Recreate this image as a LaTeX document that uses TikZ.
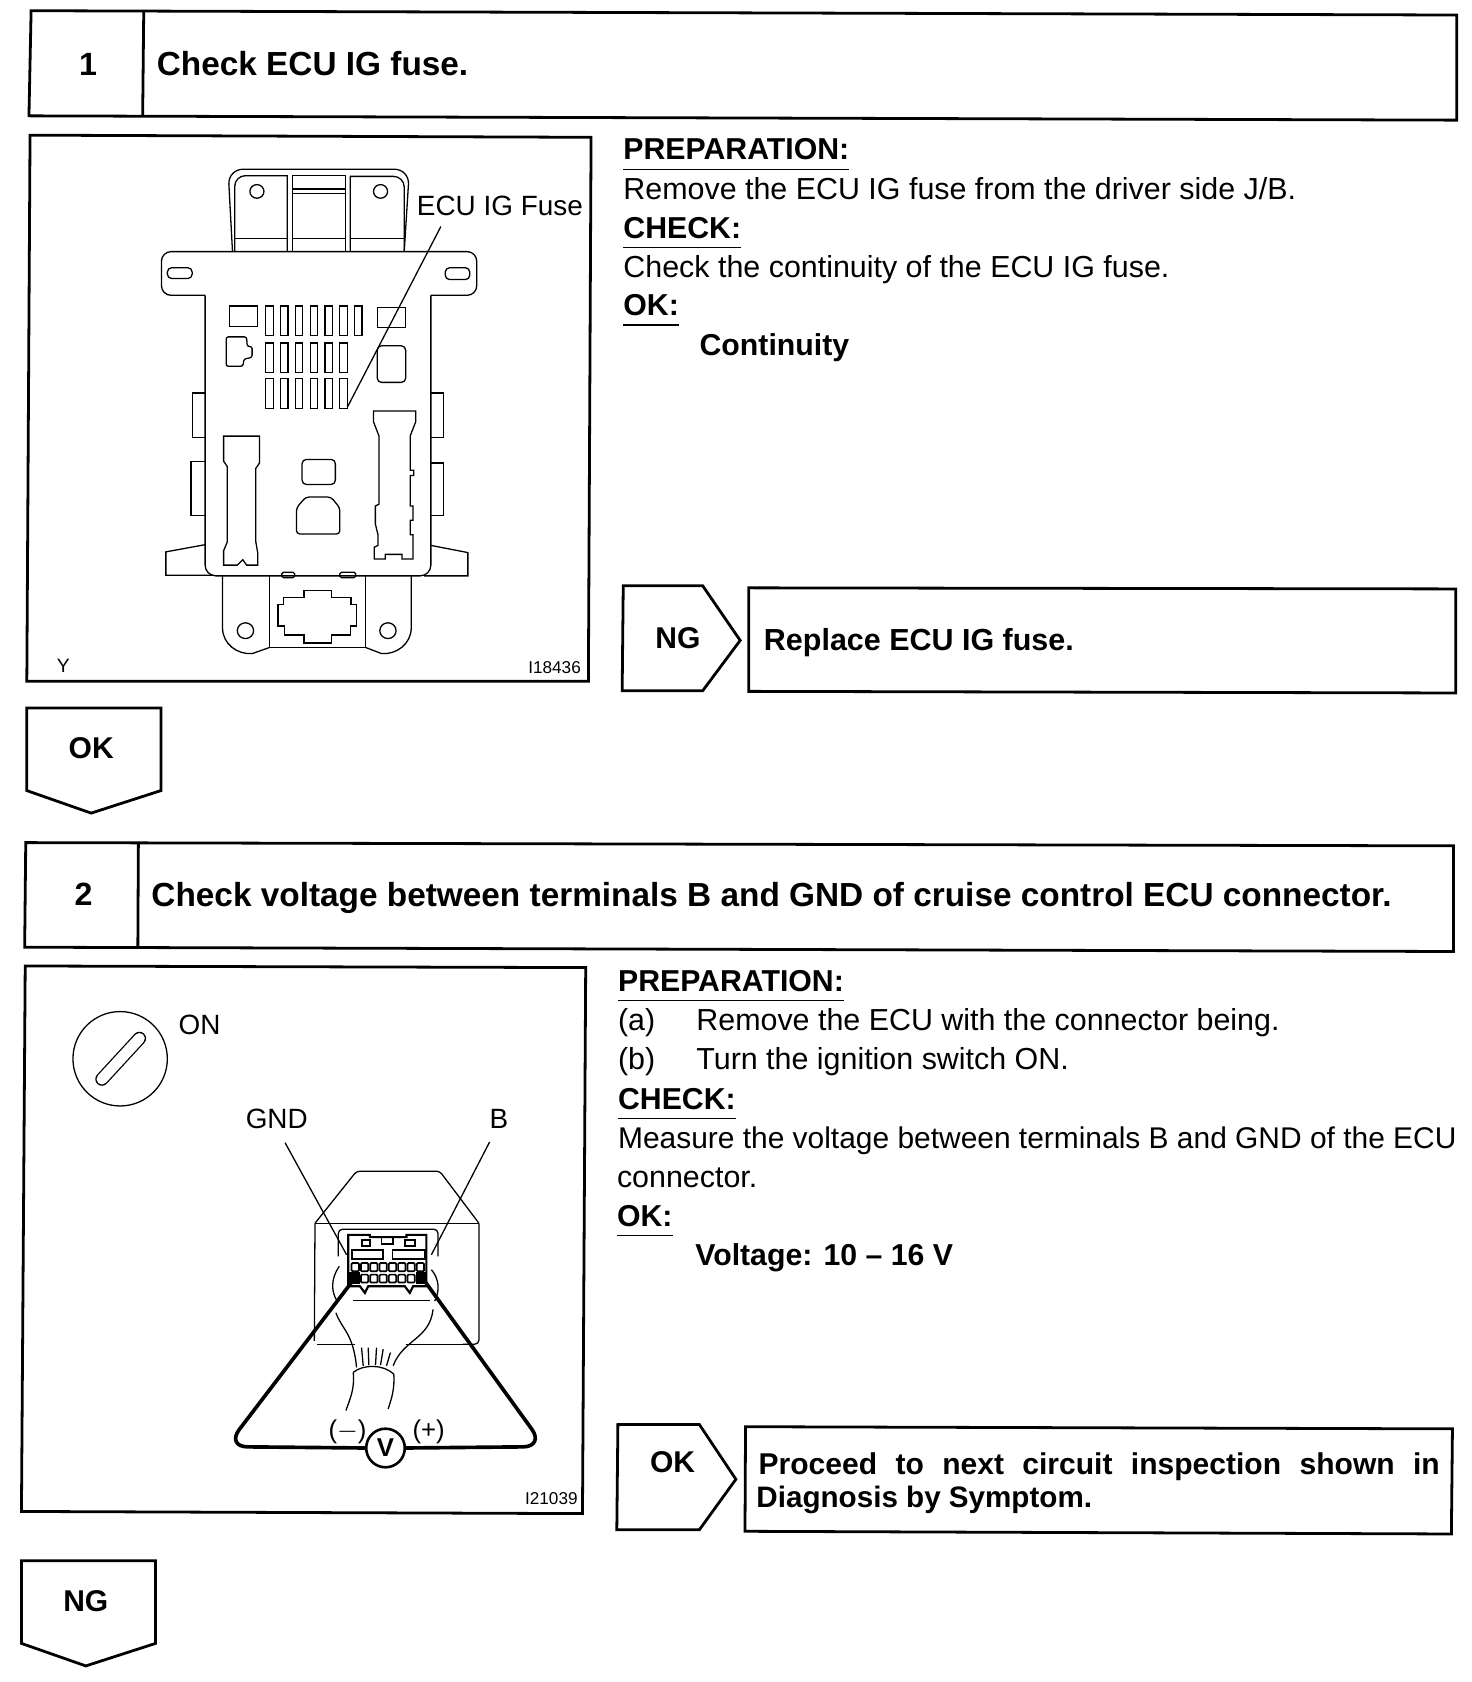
\documentclass[tikz,border=0pt]{standalone}
\usepackage{fontspec}
\setmainfont{Liberation Sans}
\newcommand{\fsz}[1]{\fontsize{#1}{#1}\selectfont}
\begin{document}
\begin{tikzpicture}
[
	x=1pt,y=-1pt,
	frameln/.style={draw,line width=2.6pt,line join=miter},
	thinln/.style={draw,line width=1.2pt},
	probeln/.style={draw,line width=3.4pt,line join=round},
	smooth/.style={rounded corners=#1},
	titletxt/.style={anchor=base west,inner sep=0pt,font=\fsz{31.1}\bfseries},
	bodytxt/.style={anchor=base west,inner sep=0pt,font=\fsz{28.35}},
	headtxt/.style={anchor=base west,inner sep=0pt,font=\fsz{28.2}\bfseries},
	arrowtxt/.style={inner sep=0pt,font=\fsz{28}\bfseries},
	labeltxt/.style={inner sep=0pt,font=\fsz{26}},
	codetxt/.style={inner sep=0pt,font=\fsz{16}}
]
	\useasboundingbox (0,0) rectangle (1372,1568);

	% step 1
	\draw[frameln] (29,10) -- (1358,14) -- (1358,112) -- (27,108) -- cycle;
	\draw[frameln] (134,10) -- (133,108);
	\node[inner sep=0pt,font=\fsz{30}\bfseries] at (82,60) (numa) {1};
	\node[titletxt] at (146,70) (titlea) {Check ECU IG fuse.};

	\draw[frameln] (28,126) -- (551,128) -- (548.5,635) -- (25,635) -- cycle;

	\node[headtxt] at (581,149) (prepa) {PREPARATION:};
	\node[bodytxt] at (581,186) (linea) {Remove the ECU IG fuse from the driver side J/B.};
	\node[headtxt] at (581,222) (checka) {CHECK:};
	\node[bodytxt] at (581,259) (lineb) {Check the continuity of the ECU IG fuse.};
	\node[headtxt] at (581,294) (oka) {OK:};
	\node[headtxt] at (652,331) (resa) {Continuity};
	\draw[thinln] ([yshift=-9pt]prepa.base west) -- ([yshift=-9pt]prepa.base east);
	\draw[thinln] ([yshift=-9pt]checka.base west) -- ([yshift=-9pt]checka.base east);
	\draw[thinln] ([yshift=-9pt]oka.base west) -- ([yshift=-9pt]oka.base east);

	\draw[frameln] (581,546) -- (655,546) -- (690,597) -- (655,644) -- (580,644) -- cycle;
	\node[arrowtxt] at (632,595) (nga) {NG};
	\draw[frameln] (698,548) -- (1357,549) -- (1357,646) -- (698,644.5) -- cycle;
	\node[titletxt,font=\fsz{28.4}\bfseries] at (712,606) (replace) {Replace ECU IG fuse.};

	\draw[frameln] (25,660) -- (150,660) -- (150,737) -- (85,758) -- (25,737) -- cycle;
	\node[arrowtxt] at (85,697) (okb) {OK};

	% fuse box drawing
	\begin{scope}[shift={(19.4,121)},x=0.345pt,y=-0.334pt,every path/.style={thinln}]
		\draw[smooth=14] (572,340) -- (560,110) -- (1050,110) -- (1036,340);
		\draw (720,340) -- (720,128) -- (620,128) [rounded corners=10] -- (578,128) -- (578,340);
		\draw (735,340) -- (735,128) -- (878,128) -- (878,340);
		\draw (735,165) -- (878,165);
		\draw (735,178) -- (878,178);
		\draw (890,340) -- (890,130) -- (990,130) [rounded corners=10] -- (1036,130) -- (1036,340);
		\draw (578,303) -- (720,303);
		\draw (735,303) -- (878,303);
		\draw (890,303) -- (1036,303);
		\draw (638,172) circle (19);
		\draw (972,172) circle (19);

		\draw[smooth=9] (800,340) -- (1232,340) -- (1232,462) -- (1108,462);
		\draw[smooth=9] (800,340) -- (380,340) -- (380,462) -- (498,462);
		\draw[smooth=10] (498,462) -- (498,1245) -- (1108,1245) -- (1108,462);
		\draw[rounded corners=4] (396,385) rectangle (463,415);
		\draw[rounded corners=4] (1147,385) rectangle (1213,418);

		\foreach \xa in {662,702,742,782,822,862,902}
			\draw (\xa,492) rectangle ++(20,83);
		\foreach \xa in {662,702,742,782,822,862} {
			\draw (\xa,595) rectangle ++(20,83);
			\draw (\xa,695) rectangle ++(20,83);
		}
		\draw (563,492) rectangle (640,550);
		\draw (963,495) rectangle (1040,552);
		\draw[rounded corners=4] (963,603) rectangle (1040,705);
		\draw[rounded corners=2] (555,578) -- (610,578) -- (612,605) -- (625,605) -- (625,635) -- (603,640) -- (600,660) -- (555,660) -- cycle;

		\draw (498,735) -- (463,735) -- (463,858) -- (498,858);
		\draw (1108,735) -- (1143,735) -- (1143,858) -- (1108,858);
		\draw (498,925) -- (460,925) -- (460,1077) -- (498,1077);
		\draw (1108,930) -- (1143,930) -- (1143,1077) -- (1108,1077);
		\draw (498,1158) -- (392,1178) -- (392,1243) -- (520,1243);
		\draw (1108,1160) -- (1208,1180) -- (1208,1245) -- (1090,1245);

		\draw (548,855) -- (645,855) -- (645,930) -- (635,945) -- (635,1150) -- (640,1180) -- (640,1215) -- (610,1215) -- (600,1200) -- (585,1215) -- (548,1215) -- (548,1175) -- (558,1150) -- (558,940) -- (548,925) -- cycle;
		\draw (953,785) -- (1067,785) -- (1067,815) -- (1052,855) -- (1052,950) -- (1062,950) -- (1062,965) -- (1052,965) -- (1052,1050) -- (1060,1050) -- (1060,1090) -- (1052,1090) -- (1052,1130) -- (1060,1130) -- (1060,1198) -- (1030,1198) -- (1030,1185) -- (985,1185) -- (985,1198) -- (955,1198) -- (955,1165) -- (965,1160) -- (965,1130) -- (958,1100) -- (958,1050) -- (968,1045) -- (968,855) -- (953,815) -- cycle;
		\draw[rounded corners=4] (760,920) rectangle (850,990);
		\draw[rounded corners=3] (770,1025) -- (838,1025) -- (862,1055) -- (862,1128) -- (745,1128) -- (745,1055) -- cycle;

		\draw (545,1245) -- (545,1390) .. controls (545,1435) and (585,1465) .. (625,1462) -- (672,1445);
		\draw (1055,1245) -- (1055,1390) .. controls (1055,1435) and (1015,1465) .. (975,1462) -- (932,1445);
		\draw (672,1245) -- (672,1445) -- (932,1445) -- (932,1245);
		\draw[rounded corners=1.5] (705,1250) -- (705,1235) -- (740,1235) -- (740,1250) -- cycle;
		\draw[rounded corners=1.5] (862,1250) -- (862,1235) -- (905,1235) -- (905,1250) -- cycle;
		\draw (710,1305) -- (765,1305) -- (765,1285) -- (840,1285) -- (840,1305) -- (892,1305) -- (892,1325) -- (908,1325) -- (908,1385) -- (890,1385) -- (890,1410) -- (840,1410) -- (840,1432) -- (765,1432) -- (765,1410) -- (712,1410) -- (712,1385) -- (695,1385) -- (695,1325) -- (710,1325) -- cycle;
		\draw (607,1398) circle (22);
		\draw (992,1398) circle (22);

		\coordinate (fusetop) at (1135,270);
		\coordinate (fusetip) at (882,775);
		\draw (fusetop) -- (fusetip);
	\end{scope}
	\node[labeltxt] at (466,192) (fuselabel) {ECU IG Fuse};
	\node[codetxt,font=\fsz{18}] at (59,621) (ya) {Y};
	\node[codetxt] at (517,622) (codea) {I18436};

	% step 2
	\draw[frameln] (24,785.5) -- (1355,788.5) -- (1355,887) -- (23,883) -- cycle;
	\draw[frameln] (129,786) -- (128.5,883);
	\node[inner sep=0pt,font=\fsz{30}\bfseries] at (78,834) (numb) {2};
	\node[titletxt] at (141,845) (titleb) {Check voltage between terminals B and GND of cruise control ECU connector.};

	\draw[frameln] (23.5,900.5) -- (546,902) -- (543,1411) -- (20,1409) -- cycle;

	\node[headtxt] at (576,924) (prepb) {PREPARATION:};
	\node[bodytxt] at (576,961) (linec) {(a)};
	\node[bodytxt] at (649,961) (lined) {Remove the ECU with the connector being.};
	\node[bodytxt] at (576,997) (linee) {(b)};
	\node[bodytxt] at (649,997) (linef) {Turn the ignition switch ON.};
	\node[headtxt] at (576,1034) (checkb) {CHECK:};
	\node[bodytxt,font=\fsz{27.9}] at (576,1071) (lineg) {Measure the voltage between terminals B and GND of the ECU};
	\node[bodytxt] at (575,1107) (lineh) {connector.};
	\node[headtxt] at (575,1143) (okc) {OK:};
	\node[headtxt] at (648,1180) (resb) {Voltage: 10 -- 16 V};
	\draw[thinln] ([yshift=-9pt]prepb.base west) -- ([yshift=-9pt]prepb.base east);
	\draw[thinln] ([yshift=-9pt]checkb.base west) -- ([yshift=-9pt]checkb.base east);
	\draw[thinln] ([yshift=-9pt]okc.base west) -- ([yshift=-9pt]okc.base east);

	\draw[frameln] (576,1328) -- (652,1328) -- (686,1379) -- (652,1426) -- (575,1426) -- cycle;
	\node[arrowtxt] at (627,1363) (okd) {OK};
	\draw[frameln] (695,1330) -- (1354,1332) -- (1353,1430) -- (694.5,1427.5) -- cycle;
	\node[anchor=north west,inner sep=0pt,text width=635pt,align=justify,font=\fontsize{28}{31}\bfseries\selectfont] at (707,1354) (proceed) {Proceed to next circuit inspection shown in\linebreak {\fontsize{27.6}{31}\selectfont\hspace*{-2pt}Diagnosis by Symptom.}};

	\draw[frameln] (20,1455) -- (145,1455) -- (145,1532) -- (80,1553) -- (20,1532) -- cycle;
	\node[arrowtxt] at (80,1493) (ngb) {NG};

	% ignition switch
	\draw[thinln] (112,987) circle (44);
	\coordinate (keya) at (95,1006);
	\coordinate (keyb) at (130,968);
	\draw[line width=1.2pt,double=white,double distance=10pt,line cap=round] (keya) -- (keyb);
	\node[labeltxt] at (186,955) (onlabel) {ON};

	% connector drawing
	\begin{scope}[shift={(205.3,1026)},x=0.31pt,y=-0.309pt,every path/.style={thinln}]
		\draw[smooth=3] (285,370) -- (410,213) -- (660,213) -- (778,370);
		\draw (285,370) -- (778,370);
		\draw (285,370) -- (283,725);
		\draw[smooth=4] (778,370) -- (778,735) -- (730,735);
		\draw (290,735) -- (405,735);
		\draw (560,735) -- (730,735);
		\draw[smooth=4] (355,470) -- (355,388) -- (655,388) -- (655,470);
		\draw[line width=2pt] (385,560) -- (385,405) -- (450,405) -- (450,412) -- (560,412) -- (560,405) -- (620,405) -- (620,560) -- (580,560) -- (570,580) -- (555,560) -- (445,560) -- (435,580) -- (420,560) -- cycle;
		\draw[line width=1.8pt] (425,420) rectangle (450,438);
		\draw[line width=1.8pt] (485,412) rectangle (520,432);
		\draw[line width=1.8pt] (555,420) rectangle (585,438);
		\draw[line width=1.8pt] (395,450) rectangle (490,478);
		\draw[line width=1.8pt] (518,450) rectangle (615,478);
		\foreach \xa in {395,423,451,479,507,535,563,591}
			\draw[line width=1.6pt,rounded corners=1] (\xa,490) rectangle ++(22,25);
		\foreach \xa in {423,451,479,507,535,563}
			\draw[line width=1.6pt,rounded corners=1] (\xa,525) rectangle ++(22,24);
		\fill (390,520) rectangle (418,552);
		\fill (590,520) rectangle (618,552);
		\draw (400,602) -- (632,602);
		\draw (358,500) .. controls (330,540) and (335,580) .. (352,605);
		\draw (635,510) .. controls (660,540) and (660,575) .. (645,605);
		\draw (348,640) .. controls (365,690) and (400,700) .. (410,805);
		\draw (640,630) .. controls (630,720) and (550,720) .. (520,800);
		\draw (425,745) -- (430,800);
		\draw (445,745) -- (447,798);
		\draw (470,745) -- (467,798);
		\draw (490,750) -- (482,798);
		\draw (512,760) -- (500,800);
		\draw (400,820) .. controls (430,795) and (490,795) .. (522,825);
		\draw (400,820) .. controls (405,870) and (390,900) .. (378,935);
		\draw (522,825) .. controls (525,870) and (515,900) .. (505,930);
		\coordinate (gndtop) at (195,127);
		\coordinate (gndtip) at (380,465);
		\coordinate (btop) at (810,125);
		\coordinate (btip) at (635,465);
		\draw (gndtop) -- (gndtip);
		\draw (btop) -- (btip);
		\node[draw,circle,line width=2.4pt,inner sep=0pt,minimum size=36pt,font=\fsz{24}\bfseries] at (497,1048) (meter) {V};
		\coordinate (probea) at (405,535);
		\coordinate (probeb) at (608,535);
		\draw[probeln,rounded corners=20pt] (probea) -- (18,1044) -- (meter.west);
		\draw[probeln,rounded corners=20pt] (probeb) -- (975,1044) -- (meter.east);
		\node[labeltxt,font=\fsz{24}] at (383,1000) (minus) {($-$)};
		\node[labeltxt,font=\fsz{24}] at (627,1000) (plus) {(+)};
	\end{scope}
	\node[labeltxt] at (258,1043) (gndlabel) {GND};
	\node[labeltxt] at (465,1043) (blabel) {B};
	\node[codetxt] at (514,1397) (codeb) {I21039};

\end{tikzpicture}
\end{document}
